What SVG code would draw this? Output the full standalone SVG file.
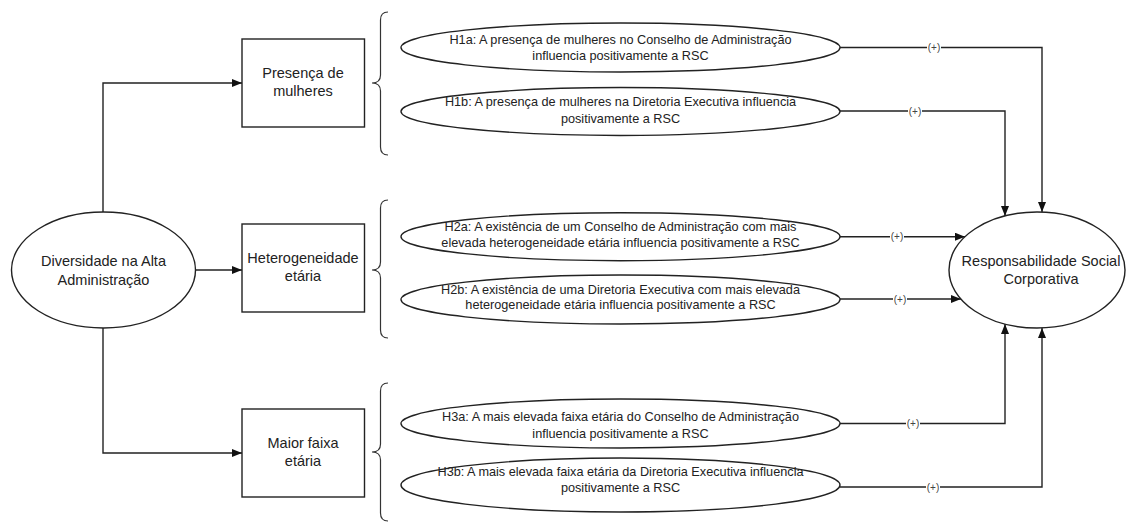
<svg xmlns="http://www.w3.org/2000/svg" width="1130" height="523" viewBox="0 0 1130 523">
<defs>
<marker id="arr" viewBox="0 0 10 8" refX="10" refY="4" markerWidth="10" markerHeight="8" markerUnits="userSpaceOnUse" orient="auto">
<path d="M0,0 L10,4 L0,8 Z" fill="#111"/>
</marker>
<style>
.shape{fill:#fff;stroke:#222;stroke-width:1.4}
.brace{fill:none;stroke:#333;stroke-width:1.2}
.line{fill:none;stroke:#222;stroke-width:1.4}
.t{font-family:"Liberation Sans",Arial,sans-serif;fill:#222;text-anchor:middle}
.big{font-size:14.5px}
.hyp{font-size:12.7px}
.lbl{font-family:"Liberation Sans",Arial,sans-serif;font-size:10px;fill:#444;text-anchor:middle}
.lblbg{fill:#fff}
</style>
</defs>
<rect width="1130" height="523" fill="#fff"/>

<g id="connectors">
<path class="line" d="M103,212 V83 H242" marker-end="url(#arr)"/>
<path class="line" d="M195,270 H242" marker-end="url(#arr)"/>
<path class="line" d="M103,328 V453 H242" marker-end="url(#arr)"/>
<path class="line" d="M840,47.5 H1042 V212" marker-end="url(#arr)"/>
<path class="line" d="M840,111 H1005 V216" marker-end="url(#arr)"/>
<path class="line" d="M840,236.7 H965" marker-end="url(#arr)"/>
<path class="line" d="M840,299 H961" marker-end="url(#arr)"/>
<path class="line" d="M840,423.5 H1005 V324" marker-end="url(#arr)"/>
<path class="line" d="M840,487 H1042 V328" marker-end="url(#arr)"/>
<g id="labels">
<rect class="lblbg" x="927" y="41" width="14" height="13"/><text class="lbl" x="934" y="51">(+)</text>
<rect class="lblbg" x="908" y="104.5" width="14" height="13"/><text class="lbl" x="915" y="114.5">(+)</text>
<rect class="lblbg" x="890" y="230" width="14" height="13"/><text class="lbl" x="897" y="240">(+)</text>
<rect class="lblbg" x="893" y="292.5" width="14" height="13"/><text class="lbl" x="900" y="302.5">(+)</text>
<rect class="lblbg" x="906" y="417" width="14" height="13"/><text class="lbl" x="913" y="427">(+)</text>
<rect class="lblbg" x="926" y="480.5" width="14" height="13"/><text class="lbl" x="933" y="490.5">(+)</text>
</g>
</g>

<g id="braces">
<path class="brace" d="M388,12 Q380.5,12 380.5,20 L380.5,75 Q380.5,83 372,83 Q380.5,83 380.5,91 L380.5,147 Q380.5,155 388,155"/>
<path class="brace" d="M388,200 Q380.5,200 380.5,208 L380.5,262 Q380.5,270 372,270 Q380.5,270 380.5,278 L380.5,330 Q380.5,338 388,338"/>
<path class="brace" d="M388,383 Q380.5,383 380.5,391 L380.5,444 Q380.5,452 372,452 Q380.5,452 380.5,460 L380.5,513 Q380.5,521 388,521"/>
</g>

<g id="diversidade">
<ellipse class="shape" cx="103.5" cy="270" rx="92" ry="58"/>
<text class="t big" x="103.5" y="266">Diversidade na Alta</text>
<text class="t big" x="103.5" y="284.5">Administração</text>
</g>

<g id="presenca">
<rect class="shape" x="242" y="39" width="122.5" height="88"/>
<text class="t big" x="303" y="78">Presença de</text>
<text class="t big" x="303" y="96">mulheres</text>
</g>

<g id="heterogeneidade">
<rect class="shape" x="242" y="224" width="122.5" height="88"/>
<text class="t big" x="303" y="263">Heterogeneidade</text>
<text class="t big" x="303" y="281">etária</text>
</g>

<g id="maior-faixa">
<rect class="shape" x="242" y="409" width="122.5" height="88"/>
<text class="t big" x="303" y="447.5">Maior faixa</text>
<text class="t big" x="303" y="465.5">etária</text>
</g>

<g id="h1a">
<ellipse class="shape" cx="620.5" cy="47.5" rx="219.5" ry="24.5"/>
<text class="t hyp" x="620.5" y="43.5">H1a: A presença de mulheres no Conselho de Administração</text>
<text class="t hyp" x="620.5" y="59.5">influencia positivamente a RSC</text>
</g>

<g id="h1b">
<ellipse class="shape" cx="620.5" cy="111.5" rx="219.5" ry="24"/>
<text class="t hyp" x="620.5" y="106">H1b: A presença de mulheres na Diretoria Executiva influencia</text>
<text class="t hyp" x="620.5" y="122.5">positivamente a RSC</text>
</g>

<g id="h2a">
<ellipse class="shape" cx="620.5" cy="236.7" rx="219.5" ry="24"/>
<text class="t hyp" x="620.5" y="231">H2a: A existência de um Conselho de Administração com mais</text>
<text class="t hyp" x="620.5" y="247">elevada heterogeneidade etária influencia positivamente a RSC</text>
</g>

<g id="h2b">
<ellipse class="shape" cx="620.5" cy="299.5" rx="219.5" ry="24.5"/>
<text class="t hyp" x="620.5" y="293.5">H2b: A existência de uma Diretoria Executiva com mais elevada</text>
<text class="t hyp" x="620.5" y="309">heterogeneidade etária influencia positivamente a RSC</text>
</g>

<g id="h3a">
<ellipse class="shape" cx="620.5" cy="423.5" rx="219.5" ry="24.5"/>
<text class="t hyp" x="620.5" y="421">H3a: A mais elevada faixa etária do Conselho de Administração</text>
<text class="t hyp" x="620.5" y="437.5">influencia positivamente a RSC</text>
</g>

<g id="h3b">
<ellipse class="shape" cx="620.5" cy="485" rx="219.5" ry="27"/>
<text class="t hyp" x="620.5" y="476">H3b: A mais elevada faixa etária da Diretoria Executiva influencia</text>
<text class="t hyp" x="620.5" y="492">positivamente a RSC</text>
</g>

<g id="rsc">
<ellipse class="shape" cx="1037" cy="270" rx="88" ry="58"/>
<text class="t big" x="1041" y="266">Responsabilidade Social</text>
<text class="t big" x="1041" y="284">Corporativa</text>
</g>
</svg>
